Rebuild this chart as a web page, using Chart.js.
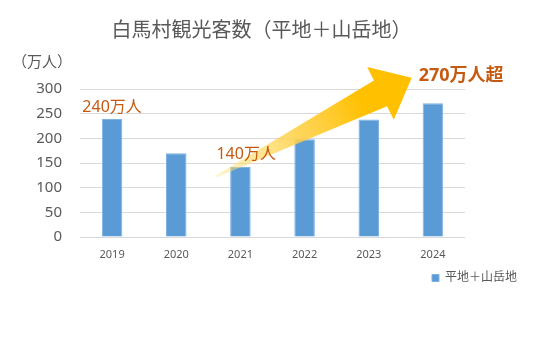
<!DOCTYPE html>
<html>
<head>
<meta charset="utf-8">
<script src="https://cdn.jsdelivr.net/npm/chart.js@4"></script>
<style>
html,body{margin:0;padding:0;background:#fff;}
#wrap{width:536px;height:353px;position:relative;}
</style>
</head>
<body>
<div id="wrap"><canvas id="c" width="536" height="353"></canvas></div>
<script>
const years = ['2019', '2020', '2021', '2022', '2023', '2024'];
const visitors = [239, 170, 142, 198, 238, 271];
const seriesName = '平地＋山岳地';
const yTicks = [0, 50, 100, 150, 200, 250, 300];
const titleText = '白馬村観光客数（平地＋山岳地）';
const unitText = '（万人）';
const noteTexts = ['240万人', '140万人', '270万人超'];

const FONT = '"Noto Sans", "Noto Sans CJK JP", sans-serif';
const GRAY = '#595959';
const ORANGE = '#C55A11';

const overlay = {
  id: 'overlay',
  afterDatasetsDraw(chart) {
    const ctx = chart.ctx;
    const x = chart.scales.x, y = chart.scales.y;
    const ca = chart.chartArea;
    const tx = x.getPixelForValue(1.625), ty = y.getPixelForValue(123);
    const hx = x.getPixelForValue(4.67), hy = y.getPixelForValue(323);
    const dx = hx - tx, dy = hy - ty, L = Math.hypot(dx, dy);
    const ux = dx / L, uy = dy / L, nx = -uy, ny = ux;
    const headLen = 35, headHalf = 29.5, shaftHalf = 14.5, tailHalf = 1;
    const bx = hx - ux * headLen, by = hy - uy * headLen;
    const pt = (px, py, off) => [px + nx * off, py + ny * off];
    const pts = [
      pt(tx, ty, tailHalf), pt(bx, by, shaftHalf), pt(bx, by, headHalf),
      [hx, hy],
      pt(bx, by, -headHalf), pt(bx, by, -shaftHalf), pt(tx, ty, -tailHalf)
    ];
    ctx.save();
    const g = ctx.createLinearGradient(tx, ty, hx, hy);
    g.addColorStop(0, 'rgba(255,225,120,0.4)');
    g.addColorStop(0.4, 'rgba(255,208,70,0.85)');
    g.addColorStop(0.75, 'rgba(255,192,0,1)');
    g.addColorStop(1, 'rgba(255,192,0,1)');
    ctx.fillStyle = g;
    ctx.beginPath();
    ctx.moveTo(pts[0][0], pts[0][1]);
    for (let i = 1; i < pts.length; i++) ctx.lineTo(pts[i][0], pts[i][1]);
    ctx.closePath();
    ctx.fill();
    ctx.restore();

    ctx.save();
    ctx.textAlign = 'center';
    ctx.textBaseline = 'middle';
    ctx.fillStyle = ORANGE;
    ctx.font = '16px ' + FONT;
    ctx.fillText(noteTexts[0], x.getPixelForValue(0), y.getPixelForValue(262));
    ctx.fillText(noteTexts[1], x.getPixelForValue(2.09), y.getPixelForValue(167));
    ctx.font = 'bold 18px ' + FONT;
    ctx.fillText(noteTexts[2], x.getPixelForValue(5.44), y.getPixelForValue(326));
    ctx.fillStyle = GRAY;
    ctx.font = '15px ' + FONT;
    ctx.textAlign = 'left';
    ctx.fillText(unitText, 12, ca.top - 26);
    ctx.restore();
  }
};

new Chart(document.getElementById('c'), {
  type: 'bar',
  data: {
    labels: years,
    datasets: [{
      label: seriesName,
      data: visitors,
      backgroundColor: '#5B9BD5',
      borderColor: '#7FB2E0',
      borderWidth: 1,
      categoryPercentage: 1,
      barPercentage: 0.32
    }]
  },
  options: {
    responsive: false,
    animation: false,
    devicePixelRatio: 1,
    layout: { padding: { left: 0, right: 13, top: 0, bottom: 59 } },
    plugins: {
      title: {
        display: true,
        text: titleText,
        color: GRAY,
        font: { family: FONT, size: 20, weight: 'normal' },
        padding: { top: 19, bottom: 46 }
      },
      legend: {
        display: true,
        position: 'bottom',
        align: 'end',
        labels: {
          color: GRAY,
          font: { family: FONT, size: 12 },
          boxWidth: 7,
          boxHeight: 7,
          padding: 6
        }
      },
      tooltip: { enabled: false }
    },
    scales: {
      x: {
        grid: { display: false, drawTicks: false },
        border: { display: false },
        ticks: { color: GRAY, font: { family: FONT, size: 11 }, padding: 11 },
        afterFit(s) { s.height = 29; }
      },
      y: {
        min: 0, max: 300,
        afterBuildTicks(s) { s.ticks = yTicks.map(v => ({ value: v })); },
        grid: { color: '#D9D9D9', drawTicks: false },
        border: { display: false },
        ticks: { color: GRAY, font: { family: FONT, size: 15 }, padding: 18 },
        afterFit(s) { s.width = 80; }
      },
      pad: {
        position: 'right',
        display: true,
        grid: { display: false },
        border: { display: false },
        ticks: { display: false },
        afterFit(s) { s.width = 58; }
      }
    }
  },
  plugins: [overlay]
});
</script>
</body>
</html>
